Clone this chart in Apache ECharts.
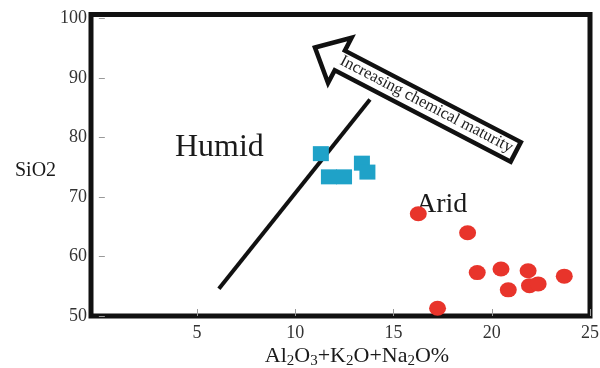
<!DOCTYPE html>
<html>
<head>
<meta charset="utf-8">
<script src="https://cdn.jsdelivr.net/npm/echarts@6/dist/echarts.min.js"></script>
<style>
html,body{margin:0;padding:0;background:#fff;}
#chart{width:600px;height:368px;}
</style>
</head>
<body>
<div id="chart"></div>
<script>
// ---- data ----
const xTickValues = [5, 10, 15, 20, 25];
const yTickValues = [50, 60, 70, 80, 90, 100];
const humidX = [11.30, 11.71, 12.48, 13.39, 13.67];
const humidY = [77.3, 73.4, 73.4, 75.7, 74.2];
const aridX = [16.26, 18.77, 19.26, 20.47, 21.85, 20.84, 21.92, 22.36, 23.69, 17.24];
const aridY = [67.2, 64.0, 57.3, 57.9, 57.6, 54.4, 55.1, 55.4, 56.7, 51.3];
const boundaryX = [6.11, 13.8];
const boundaryY = [54.6, 86.4];
// annotation anchors (data coordinates)
const arrowTip = [11.0, 95.15];
const arrowTail = [21.22, 77.6];
const humidLabelPos = [3.87, 78.25];
const aridLabelPos = [16.14, 68.8];
const arrowText = 'Increasing chemical maturity';

const zip = (xs, ys) => xs.map((x, i) => [x, ys[i]]);
const serif = '"Liberation Serif", "Times New Roman", serif';

const chart = echarts.init(document.getElementById('chart'), null, {renderer: 'canvas'});
chart.setOption({
  animation: false,
  backgroundColor: '#fff',
  grid: {
    left: 91, right: 10, top: 14.5, bottom: 52,
    show: true, borderColor: '#111', borderWidth: 5, backgroundColor: 'transparent',
    outerBoundsMode: 'none', containLabel: false
  },
  xAxis: {
    type: 'value', min: -0.4, max: 25,
    axisLine: {show: false},
    splitLine: {show: false},
    axisTick: {show: true, inside: true, length: 7, lineStyle: {color: '#999', width: 1}, customValues: xTickValues},
    axisLabel: {customValues: xTickValues, color: '#333', fontFamily: serif, fontSize: 18, margin: 8}
  },
  yAxis: {
    type: 'value', min: 50, max: 100.7,
    axisLine: {show: false},
    splitLine: {show: false},
    axisTick: {show: true, inside: true, length: 6, lineStyle: {color: '#999', width: 1}, customValues: yTickValues},
    axisLabel: {customValues: yTickValues, color: '#333', fontFamily: serif, fontSize: 18, margin: 4}
  },
  series: [
    {
      type: 'line', data: zip(boundaryX, boundaryY), symbol: 'none', silent: true,
      lineStyle: {color: '#111', width: 4, cap: 'butt'}, z: 1
    },
    {
      type: 'scatter', name: 'Humid', data: zip(humidX, humidY), symbol: 'rect', symbolSize: [16, 15],
      itemStyle: {color: '#1fa2c8', opacity: 1}, z: 3
    },
    {
      type: 'scatter', name: 'Arid', data: zip(aridX, aridY), symbol: 'circle', symbolSize: [17, 15],
      itemStyle: {color: '#e8342b', opacity: 1}, z: 3
    }
  ]
});

function px(p) { return chart.convertToPixel({gridIndex: 0}, p); }

const T = px(arrowTip), E = px(arrowTail);
const dx = E[0] - T[0], dy = E[1] - T[1];
const L = Math.hypot(dx, dy);
const d = [dx / L, dy / L];
const n = [-d[1], d[0]];
const headLen = 28, headHalf = 25.5, shaftHalf = 11;
const pt = (base, a, b) => [base[0] + d[0] * a + n[0] * b, base[1] + d[1] * a + n[1] * b];
const arrowPoly = [
  T,
  pt(T, headLen, -headHalf),
  pt(T, headLen, -shaftHalf),
  pt(E, 0, -shaftHalf),
  pt(E, 0, shaftHalf),
  pt(T, headLen, shaftHalf),
  pt(T, headLen, headHalf)
];
const textCenter = pt(T, 125, -1);
const H = px(humidLabelPos), A = px(aridLabelPos);

chart.setOption({
  graphic: [
    {
      type: 'polygon', z: 5, silent: true,
      shape: {points: arrowPoly},
      style: {fill: '#fff', stroke: '#111', lineWidth: 4.5, lineJoin: 'miter'}
    },
    {
      type: 'text', z: 6, silent: true,
      x: textCenter[0], y: textCenter[1], rotation: -Math.atan2(dy, dx),
      style: {text: arrowText, x: 0, y: 0, align: 'center', verticalAlign: 'middle',
        font: '16.5px ' + serif, fill: '#222'}
    },
    {
      type: 'text', z: 0, silent: true, x: H[0], y: H[1],
      style: {text: 'Humid', align: 'left', verticalAlign: 'middle', font: '32px ' + serif, fill: '#1a1a1a'}
    },
    {
      type: 'text', z: 0, silent: true, x: A[0], y: A[1],
      style: {text: 'Arid', align: 'left', verticalAlign: 'middle', font: '28px ' + serif, fill: '#1a1a1a'}
    },
    {
      type: 'text', silent: true, x: 15, y: 171,
      style: {text: 'SiO2', align: 'left', verticalAlign: 'middle', font: '20px ' + serif, fill: '#1a1a1a'}
    },
    {
      type: 'text', silent: true, x: 357, y: 356,
      style: {
        text: '{n|Al}{s|2}{n|O}{s|3}{n|+K}{s|2}{n|O+Na}{s|2}{n|O%}',
        align: 'center', verticalAlign: 'middle',
        rich: {
          n: {fontFamily: serif, fontSize: 22, lineHeight: 26, fill: '#1a1a1a', color: '#1a1a1a'},
          s: {fontFamily: serif, fontSize: 15, lineHeight: 15, verticalAlign: 'bottom', fill: '#1a1a1a', color: '#1a1a1a'}
        }
      }
    }
  ]
});
</script>
</body>
</html>
